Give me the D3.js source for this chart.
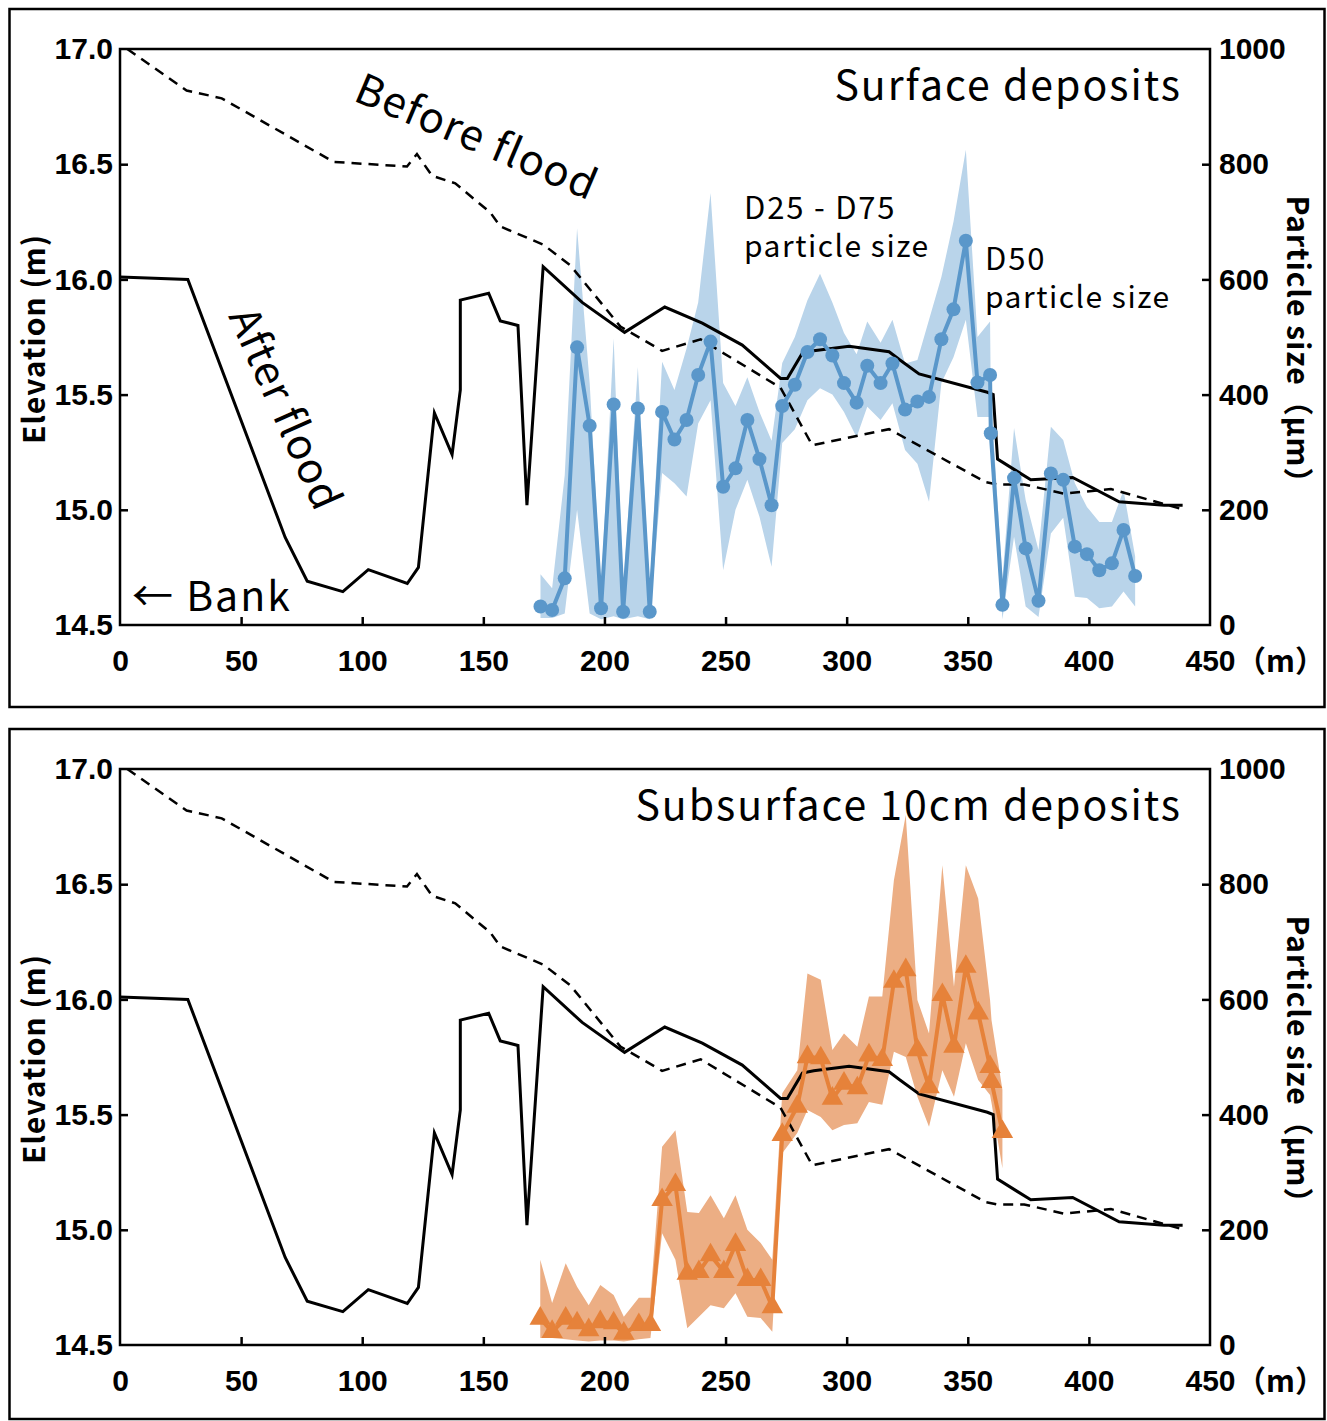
<!DOCTYPE html>
<html>
<head>
<meta charset="utf-8">
<script src="https://cdn.jsdelivr.net/npm/d3@7"></script>
<style>
  body { margin: 0; background: #fff; }
  svg { display: block; font-family: "Noto Sans CJK JP", "Noto Sans", sans-serif; }
  .tick text { font-weight: bold; font-size: 30px; fill: #000; }
  .tick line { stroke: #000; stroke-width: 2.5; }
</style>
</head>
<body>
<div id="chart"></div>
<script>
// Elevation profiles (distance m, elevation m)
const afterX = [0, 28, 68.2, 77.3, 92, 102.5, 118.6, 123.2, 129.8, 137.1, 140.5, 140.5, 152.2, 157, 164.3, 168, 174.7, 190.8, 208.3, 224.9, 240.4, 256.9, 272.7, 275.5, 281.7, 286.4, 301, 317.5, 322, 329.9, 358.1, 360.5, 362.3, 376, 393.3, 412.5, 431.1, 438.7];
const afterElev = [16.01, 16.0, 14.88, 14.69, 14.645, 14.74, 14.68, 14.75, 15.42, 15.24, 15.52, 15.91, 15.94, 15.82, 15.80, 15.02, 16.055, 15.90, 15.77, 15.88, 15.81, 15.715, 15.57, 15.57, 15.68, 15.69, 15.71, 15.686, 15.65, 15.59, 15.51, 15.5, 15.22, 15.13, 15.14, 15.035, 15.02, 15.02];
const beforeX = [3, 27.5, 42, 88.2, 118.5, 122.6, 128.8, 138.4, 152.9, 157, 174.9, 186, 206.6, 223.8, 239.7, 272.7, 285.8, 317.5, 357.4, 362.3, 373.3, 389.8, 409.1, 439.4];
const beforeElev = [17.0, 16.82, 16.786, 16.51, 16.49, 16.544, 16.45, 16.417, 16.29, 16.23, 16.15, 16.06, 15.795, 15.69, 15.74, 15.53, 15.28, 15.35, 15.12, 15.11, 15.11, 15.07, 15.09, 15.0];

// Surface deposits particle size (µm)
const surfX = [173.6, 178.4, 183.6, 188.7, 193.9, 198.6, 203.8, 207.7, 213.8, 218.7, 223.8, 228.9, 233.9, 238.7, 243.8, 249, 254.1, 259, 264, 269, 273.4, 278.6, 283.8, 289, 294.1, 298.9, 304.1, 308.5, 314, 318.9, 324.1, 329.2, 334, 339.1, 344.1, 349.2, 354, 359.2, 359.5, 364.3, 369.1, 373.9, 379.2, 384.3, 389.4, 394.2, 399.2, 404.3, 409.5, 414.3, 419.1];
const surfD50 = [32, 26, 81, 482, 346, 29, 383, 23, 376, 23, 370, 322, 356, 434, 492, 240, 272, 356, 288, 208, 380, 417, 474, 496, 468, 420, 386, 450, 420, 454, 374, 388, 396, 496, 548, 667, 421, 434, 333, 35, 255, 133, 42, 263, 252, 136, 123, 95, 107, 165, 85];
const surfD25 = [12, 12, 20, 200, 20, 10, 15, 10, 15, 10, 264, 246, 223, 350, 390, 95, 200, 252, 188, 101, 316, 340, 390, 411, 400, 370, 326, 379, 356, 385, 304, 280, 214, 420, 465, 530, 361, 361, 320, 10, 153, 32, 14, 159, 186, 49, 47, 29, 32, 58, 32];
const surfD75 = [88, 64, 260, 689, 420, 60, 498, 60, 448, 60, 457, 408, 480, 560, 750, 420, 380, 430, 370, 320, 455, 500, 564, 610, 560, 507, 470, 527, 490, 530, 454, 460, 530, 604, 700, 825, 500, 527, 400, 80, 342, 217, 130, 344, 321, 246, 205, 179, 179, 234, 119];

// Subsurface 10cm deposits particle size (µm)
const subX = [173.5, 178.4, 184, 188.7, 193.5, 198.3, 203.8, 208, 214.2, 219, 223.8, 229.3, 234.2, 239, 243.8, 249.3, 254.1, 259, 264.5, 269.3, 273.4, 279.6, 283.8, 289.3, 294.1, 298.9, 304.4, 309.2, 314.7, 319.5, 324.4, 329.2, 334, 339.5, 344.3, 349.2, 354.3, 359.2, 359.8, 364.3];
const subD50 = [46, 23, 46, 38, 26, 40, 38, 20, 35, 35, 252, 278, 124, 127, 156, 127, 174, 113, 113, 66, 365, 414, 500, 498, 428, 454, 446, 503, 495, 631, 651, 512, 448, 608, 518, 657, 576, 483, 457, 370];
const subD25 = [12, 12, 10, 8, 6, 8, 8, 6, 10, 12, 194, 148, 29, 49, 69, 64, 90, 49, 47, 23, 333, 368, 408, 396, 373, 382, 385, 422, 417, 509, 500, 431, 379, 477, 431, 524, 460, 434, 420, 307];
const subD75 = [148, 73, 142, 101, 69, 104, 87, 49, 82, 82, 344, 373, 231, 229, 260, 220, 260, 200, 177, 148, 437, 477, 645, 634, 512, 541, 518, 605, 605, 807, 920, 599, 541, 833, 622, 833, 775, 599, 564, 443];

const xTicks = [0, 50, 100, 150, 200, 250, 300, 350, 400, 450];
const elevTicks = [14.5, 15.0, 15.5, 16.0, 16.5, 17.0];
const sizeTicks = [0, 200, 400, 600, 800, 1000];

const W = 1327, H = 1421;
const plot = { left: 120, right: 1210, top: 49, bottom: 625 };

const svg = d3.select("#chart").append("svg").attr("width", W).attr("height", H);

const x = d3.scaleLinear().domain([0, 450]).range([plot.left, plot.right]);
const yElev = d3.scaleLinear().domain([14.5, 17.0]).range([plot.bottom, plot.top]);
const ySize = d3.scaleLinear().domain([0, 1000]).range([plot.bottom, plot.top]);

const afterData = afterX.map((d, i) => ({ x: d, y: afterElev[i] }));
const beforeData = beforeX.map((d, i) => ({ x: d, y: beforeElev[i] }));
const surfData = surfX.map((d, i) => ({ x: d, d50: surfD50[i], d25: surfD25[i], d75: surfD75[i] }));
const subData = subX.map((d, i) => ({ x: d, d50: subD50[i], d25: subD25[i], d75: subD75[i] }));

function drawPanel(offsetY, frameH, sizeData, cfg) {
  svg.append("rect")
    .attr("x", 9.5).attr("y", offsetY + 9).attr("width", 1315).attr("height", frameH)
    .attr("fill", "none").attr("stroke", "#000").attr("stroke-width", 2.5);

  const g = svg.append("g").attr("transform", `translate(0,${offsetY})`);

  const clipId = "clip" + offsetY;
  g.append("clipPath").attr("id", clipId).append("rect")
    .attr("x", plot.left).attr("y", plot.top - 4)
    .attr("width", plot.right - plot.left).attr("height", plot.bottom - plot.top + 4);

  // band D25-D75
  g.append("path").datum(sizeData)
    .attr("fill", cfg.band).attr("stroke", "none")
    .attr("d", d3.area().x(d => x(d.x)).y0(d => ySize(d.d25)).y1(d => ySize(d.d75)));

  // elevation lines
  const elevLine = d3.line().x(d => x(d.x)).y(d => yElev(d.y));
  g.append("path").datum(beforeData)
    .attr("clip-path", `url(#${clipId})`)
    .attr("fill", "none").attr("stroke", "#000").attr("stroke-width", 2.5)
    .attr("stroke-dasharray", "10 7").attr("d", elevLine);
  g.append("path").datum(afterData)
    .attr("fill", "none").attr("stroke", "#000").attr("stroke-width", 3)
    .attr("d", elevLine);

  // D50 line + markers
  g.append("path").datum(sizeData)
    .attr("fill", "none").attr("stroke", cfg.line).attr("stroke-width", 4)
    .attr("d", d3.line().x(d => x(d.x)).y(d => ySize(d.d50)));
  if (cfg.marker === "circle") {
    g.selectAll(".mk").data(sizeData).join("circle")
      .attr("cx", d => x(d.x)).attr("cy", d => ySize(d.d50)).attr("r", 7)
      .attr("fill", cfg.line);
  } else {
    const tri = d3.symbol().type(d3.symbolTriangle).size(200);
    g.selectAll(".mk").data(sizeData).join("path")
      .attr("transform", d => `translate(${x(d.x)},${ySize(d.d50)})`)
      .attr("d", tri).attr("fill", cfg.line);
  }

  // axes (ticks inward)
  const ax = g.append("g").attr("transform", `translate(0,${plot.bottom})`)
    .call(d3.axisBottom(x).tickValues(xTicks).tickSize(-8).tickPadding(25).tickFormat(d3.format("d")));
  ax.select(".domain").remove();
  ax.selectAll(".tick").filter(d => d === 0 || d === 450).select("line").remove();

  const al = g.append("g").attr("transform", `translate(${plot.left},0)`)
    .call(d3.axisLeft(yElev).tickValues(elevTicks).tickSize(-8).tickPadding(7).tickFormat(d3.format(".1f")));
  al.select(".domain").remove();
  al.selectAll(".tick").filter(d => d === 14.5 || d === 17).select("line").remove();

  const ar = g.append("g").attr("transform", `translate(${plot.right},0)`)
    .call(d3.axisRight(ySize).tickValues(sizeTicks).tickSize(-8).tickPadding(9).tickFormat(d3.format("d")));
  ar.select(".domain").remove();
  ar.selectAll(".tick").filter(d => d === 0 || d === 1000).select("line").remove();

  g.append("rect")
    .attr("x", plot.left).attr("y", plot.top)
    .attr("width", plot.right - plot.left).attr("height", plot.bottom - plot.top)
    .attr("fill", "none").attr("stroke", "#000").attr("stroke-width", 2.5);

  // unit on x axis
  g.append("text").attr("x", 1236).attr("y", 672)
    .attr("font-size", 30).attr("font-weight", "bold").text("（m）");

  // axis titles
  g.append("text").attr("transform", "translate(45,339) rotate(-90)")
    .attr("text-anchor", "middle").attr("font-size", 30).attr("font-weight", "bold")
    .attr("letter-spacing", 1).text("Elevation (m)");
  g.append("text").attr("transform", "translate(1287,347) rotate(90)")
    .attr("text-anchor", "middle").attr("font-size", 30).attr("font-weight", "bold")
    .attr("letter-spacing", 1).text("Particle size（μm）");

  // panel title
  g.append("text").attr("x", 1182).attr("y", cfg.titleY)
    .attr("text-anchor", "end").attr("font-size", 41).attr("letter-spacing", 2).text(cfg.title);

  return g;
}

const g1 = drawPanel(0, 698, surfData, {
  band: "#b9d4ea", line: "#5a97ca", marker: "circle",
  title: "Surface deposits", titleY: 100
});
drawPanel(720, 690, subData, {
  band: "#ecae84", line: "#e6823a", marker: "triangle",
  title: "Subsurface 10cm deposits", titleY: 100
});

// annotations in top panel
g1.append("text").attr("transform", "translate(352,100) rotate(23)")
  .attr("font-size", 42).attr("letter-spacing", 1.5).text("Before flood");
g1.append("text").attr("transform", "translate(228,316) rotate(66)")
  .attr("font-size", 42).attr("letter-spacing", 1).text("After flood");
g1.append("text").attr("x", 132).attr("y", 611).attr("font-size", 41)
  .attr("letter-spacing", 2).text("← Bank");
g1.append("text").attr("x", 744).attr("y", 219).attr("font-size", 31).attr("letter-spacing", 1.8).text("D25 - D75");
g1.append("text").attr("x", 744).attr("y", 257).attr("font-size", 30).attr("letter-spacing", 1.5).text("particle size");
g1.append("text").attr("x", 985).attr("y", 270).attr("font-size", 31).attr("letter-spacing", 1.8).text("D50");
g1.append("text").attr("x", 985).attr("y", 308).attr("font-size", 30).attr("letter-spacing", 1.5).text("particle size");
</script>
</body>
</html>
